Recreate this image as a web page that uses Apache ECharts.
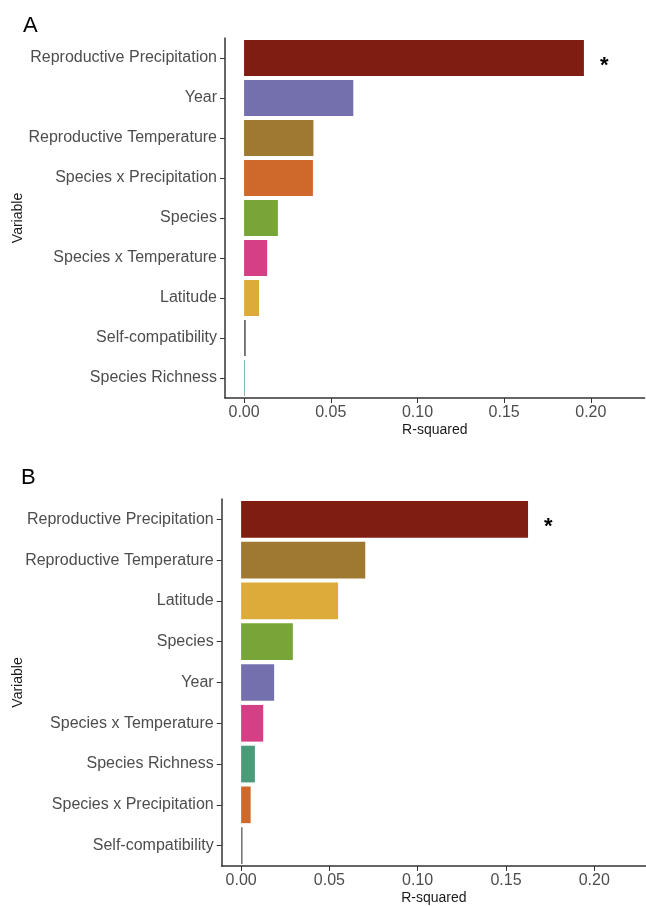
<!DOCTYPE html>
<html>
<head>
<meta charset="utf-8">
<script src="https://cdn.jsdelivr.net/npm/echarts@6/dist/echarts.min.js"></script>
<style>
  html, body { margin: 0; padding: 0; background: #fff; }
  #main { width: 646px; height: 906px; }
</style>
</head>
<body>
<div id="main"></div>
<script>
    // panel A
    var categoriesA = ['Reproductive Precipitation', 'Year', 'Reproductive Temperature', 'Species x Precipitation',
        'Species', 'Species x Temperature', 'Latitude', 'Self-compatibility', 'Species Richness'];
    var valuesA = [0.196, 0.063, 0.040, 0.0397, 0.0195, 0.0133, 0.0086, 0.001, 0.0004];
    var starredA = ['Reproductive Precipitation'];

    // panel B
    var categoriesB = ['Reproductive Precipitation', 'Reproductive Temperature', 'Latitude', 'Species', 'Year',
        'Species x Temperature', 'Species Richness', 'Species x Precipitation', 'Self-compatibility'];
    var valuesB = [0.1625, 0.0703, 0.0549, 0.0293, 0.0187, 0.0125, 0.0078, 0.0054, 0.0008];
    var starredB = ['Reproductive Precipitation'];

    var xTicks = [0, 0.05, 0.10, 0.15, 0.20];

    var colors = {
        'Reproductive Precipitation': '#7f1d10',
        'Year': '#7470ae',
        'Reproductive Temperature': '#9f7832',
        'Species x Precipitation': '#cf692b',
        'Species': '#77a538',
        'Species x Temperature': '#d53f86',
        'Latitude': '#ddab3a',
        'Self-compatibility': '#666666',
        'Species Richness': '#4a9b78'
    };

    var font = 'Liberation Sans, Arial, sans-serif';

    function barData(cats, vals, starred) {
        return vals.map(function(v, i) {
            var item = { value: v, itemStyle: { color: colors[cats[i]] } };
            if (starred.indexOf(cats[i]) >= 0) {
                item.label = {
                    show: true,
                    position: 'right',
                    distance: 16,
                    formatter: '*',
                    fontSize: 22,
                    fontWeight: 'bold',
                    fontFamily: font,
                    color: '#000',
                    offset: [0, 8]
                };
            }
            return item;
        });
    }

    function xAxisFor(gridIndex, max) {
        return {
            type: 'value',
            gridIndex: gridIndex,
            min: -0.011,
            max: max,
            splitLine: { show: false },
            axisLine: { show: true, onZero: false, lineStyle: { color: '#333', width: 1.5 } },
            axisTick: { show: true, length: 5, customValues: xTicks, lineStyle: { color: '#333' } },
            axisLabel: {
                customValues: xTicks,
                margin: 7,
                fontSize: 16,
                fontFamily: font,
                color: '#4d4d4d',
                formatter: function(v) { return v.toFixed(2); }
            },
            name: 'R-squared',
            nameLocation: 'middle',
            nameGap: 25,
            nameTextStyle: { fontSize: 14, fontFamily: font, color: '#1a1a1a' }
        };
    }

    function yAxisFor(gridIndex, cats, gap) {
        return {
            type: 'category',
            gridIndex: gridIndex,
            data: cats,
            inverse: true,
            axisLine: { show: true, onZero: false, lineStyle: { color: '#333', width: 1.5 } },
            axisTick: { show: true, length: 5, alignWithLabel: true, lineStyle: { color: '#333' } },
            axisLabel: { margin: 8, fontSize: 16, fontFamily: font, color: '#4d4d4d' },
            name: 'Variable',
            nameLocation: 'middle',
            nameRotate: 90,
            nameGap: gap,
            nameMoveOverlap: false,
            nameTextStyle: { fontSize: 14, fontFamily: font, color: '#1a1a1a' }
        };
    }

    var myChart = echarts.init(document.getElementById('main'), null, { renderer: 'canvas' });
    var option = {
        backgroundColor: '#fff',
        animation: false,
        title: [{
            text: 'A', left: 18, top: 10,
            textStyle: { fontSize: 22, fontWeight: 'normal', fontFamily: font, color: '#000' }
        }, {
            text: 'B', left: 16, top: 462,
            textStyle: { fontSize: 22, fontWeight: 'normal', fontFamily: font, color: '#000' }
        }],
        grid: [
            { left: 225, top: 38, width: 419.6, height: 360 },
            { left: 221.7, top: 499, width: 424.3, height: 368 }
        ],
        xAxis: [xAxisFor(0, 0.231), xAxisFor(1, 0.2293)],
        yAxis: [yAxisFor(0, categoriesA, 200), yAxisFor(1, categoriesB, 197)],
        series: [{
            type: 'bar',
            xAxisIndex: 0,
            yAxisIndex: 0,
            barCategoryGap: '10%',
            data: barData(categoriesA, valuesA, starredA)
        }, {
            type: 'bar',
            xAxisIndex: 1,
            yAxisIndex: 1,
            barCategoryGap: '10%',
            data: barData(categoriesB, valuesB, starredB)
        }]
    };
    myChart.setOption(option);
</script>
</body>
</html>
